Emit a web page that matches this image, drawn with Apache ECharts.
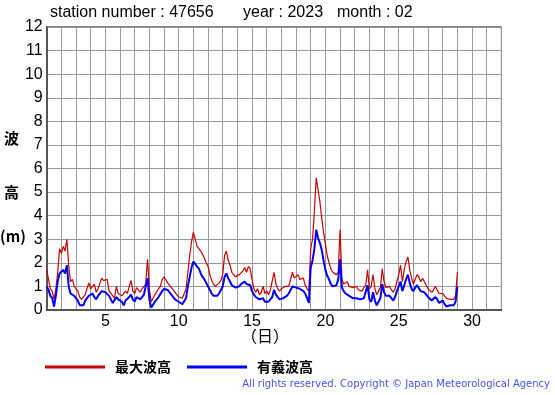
<!DOCTYPE html>
<html><head><meta charset="utf-8">
<script src="https://cdn.jsdelivr.net/npm/echarts@6/dist/echarts.min.js"></script>
<style>html,body{margin:0;padding:0;background:#fff}#c{width:555px;height:395px}</style>
</head><body><div id="c"></div>
<script>
// 3-hourly samples from 1 Feb 00h to 29 (=1 Mar 00h)
const startDay = 1;
const stepDay = 1/8;
const maxWave = [
 1.7,1.3,0.9,0.8,0.45,0.9,1.6,2.6,
 2.4,2.7,2.5,3.0,1.9,1.2,1.3,1.0,
 1.0,0.8,0.55,0.45,0.5,0.65,0.9,1.15,
 0.9,0.95,1.1,0.75,0.9,0.85,1.35,1.25,
 1.2,1.3,0.8,0.7,0.6,0.5,1.0,0.7,
 0.75,0.6,0.55,0.8,0.7,1.0,1.25,0.8,
 0.7,0.95,0.85,0.75,0.9,0.85,1.1,2.15,
 0.9,0.35,0.3,0.65,0.7,0.9,1.0,1.3,
 1.4,1.35,1.15,1.1,0.95,0.85,0.75,0.75,
 0.55,0.5,0.5,0.45,0.9,1.6,2.3,2.9,
 3.3,3.0,2.7,2.6,2.5,2.35,2.2,2.0,
 1.85,1.5,1.25,1.1,1.0,1.05,1.15,1.25,
 1.5,2.3,2.5,2.1,1.9,1.6,1.5,1.4,
 1.4,1.5,1.55,1.65,1.8,1.6,1.85,1.75,
 1.3,0.9,0.75,0.9,0.65,0.75,1.0,0.7,
 0.8,0.65,0.85,0.9,1.6,1.1,0.9,0.8,
 0.9,0.85,1.0,0.95,1.0,1.3,1.6,1.35,
 1.4,1.5,1.3,1.25,1.35,1.05,0.9,0.8,
 2.6,3.0,4.2,5.6,5.1,4.6,3.9,3.3,
 2.8,2.3,2.0,1.75,1.6,1.55,1.5,1.6,
 3.4,1.3,1.1,1.05,1.2,1.0,1.05,0.95,
 0.9,1.0,0.85,0.9,0.8,0.95,1.05,1.7,
 0.9,1.0,1.5,0.9,0.65,0.8,0.95,1.75,
 1.2,0.95,0.9,1.0,0.85,0.75,0.9,1.2,
 1.5,1.9,1.2,1.7,2.05,2.25,1.7,1.35,
 1.1,1.3,1.5,1.4,1.2,1.35,1.2,1.05,
 0.9,0.85,0.75,0.85,1.0,0.85,0.7,0.65,
 0.7,0.6,0.5,0.45,0.45,0.5,0.45,0.6,
 1.6
];
const sigWave = [
 1.0,0.85,0.6,0.5,0.15,0.6,1.2,1.55,
 1.5,1.7,1.55,1.9,1.0,0.7,0.75,0.6,
 0.55,0.4,0.2,0.25,0.2,0.4,0.5,0.6,
 0.6,0.7,0.55,0.45,0.6,0.65,0.8,0.75,
 0.75,0.7,0.6,0.45,0.3,0.25,0.55,0.45,
 0.5,0.35,0.2,0.4,0.45,0.55,0.65,0.45,
 0.35,0.55,0.6,0.45,0.55,0.65,0.7,1.35,
 0.45,0.1,0.1,0.35,0.4,0.55,0.6,0.8,
 0.9,0.9,0.85,0.75,0.65,0.55,0.45,0.42,
 0.35,0.3,0.25,0.2,0.5,1.0,1.4,1.8,
 2.05,2.0,1.85,1.75,1.55,1.4,1.3,1.15,
 1.0,0.85,0.7,0.6,0.55,0.6,0.7,0.75,
 1.0,1.4,1.55,1.35,1.2,1.05,1.0,0.95,
 0.95,1.0,1.1,1.15,1.2,1.1,1.15,1.05,
 0.8,0.65,0.55,0.6,0.45,0.4,0.5,0.35,
 0.4,0.35,0.45,0.55,0.85,0.65,0.55,0.45,
 0.45,0.5,0.55,0.6,0.7,0.85,1.0,0.95,
 0.95,0.9,0.9,0.85,0.8,0.7,0.5,0.3,
 1.8,2.1,2.6,3.4,3.05,2.85,2.55,2.1,
 1.7,1.45,1.3,1.1,1.0,0.95,1.05,1.3,
 2.15,0.95,0.8,0.7,0.65,0.6,0.55,0.5,
 0.55,0.5,0.45,0.45,0.4,0.5,0.45,1.05,
 0.45,0.35,0.75,0.4,0.2,0.35,0.5,1.1,
 0.75,0.6,0.55,0.6,0.5,0.4,0.55,0.8,
 1.0,1.2,0.8,1.05,1.3,1.5,1.15,0.9,
 0.8,0.95,1.05,1.0,0.8,0.85,0.75,0.65,
 0.55,0.5,0.4,0.45,0.55,0.45,0.3,0.3,
 0.4,0.25,0.15,0.2,0.2,0.25,0.2,0.35,
 1.0
];
const xTickLabels = [5,10,15,20,25,30];
const titleParts = ['station number : 47656','year : 2023','month : 02'];
const seriesNames = ['最大波高','有義波高'];
const yName = ['波','高','(m)'];
const xName = '（日）';
const copyright = 'All rights reserved. Copyright \u00a9 Japan Meteorological Agency';

const toPairs = arr => arr.map((v,i)=>[startDay + i*stepDay, v]);
const font = 'Liberation Sans, Arial, sans-serif';
const chart = echarts.init(document.getElementById('c'), null, {renderer:'canvas'});
chart.setOption({
  animation:false,
  backgroundColor:'#fff',
  grid:{left:46.7, right:53.6, top:27, bottom:85, show:true, borderColor:'#000', borderWidth:1, backgroundColor:'transparent'},
  xAxis:{type:'value', min:1, max:32, interval:1,
    axisLine:{show:true, onZero:false, lineStyle:{color:'#555', width:2}},
    axisTick:{show:false},
    splitLine:{show:true, lineStyle:{color:'#999', width:1}},
    axisLabel:{fontFamily:font, fontSize:16, color:'#000', margin:4,
      formatter:v=> xTickLabels.includes(v) ? String(v) : ''}
  },
  yAxis:{type:'value', min:0, max:12, interval:1,
    axisLine:{show:true, lineStyle:{color:'#555', width:2}},
    axisTick:{show:false},
    splitLine:{show:true, lineStyle:{color:'#999', width:1}},
    axisLabel:{fontFamily:font, fontSize:16, color:'#000', margin:4}
  },
  legend:{left:40, top:355, itemWidth:60, itemHeight:3, itemGap:16, icon:'rect',
    textStyle:{fontFamily:'Noto Sans CJK JP', fontWeight:'bold', fontSize:14, color:'#000', padding:[0,0,0,5]},
    data:seriesNames},
  series:[
    {name:seriesNames[0], type:'line', data:toPairs(maxWave), showSymbol:false, symbol:'none',
      lineStyle:{color:'#cc0000', width:1.2}, itemStyle:{color:'#cc0000'}},
    {name:seriesNames[1], type:'line', data:toPairs(sigWave), showSymbol:false, symbol:'none',
      lineStyle:{color:'#0000ff', width:2}, itemStyle:{color:'#0000ff'}}
  ],
  graphic:[
    {type:'text', left:50, top:5, style:{text:titleParts[0], font:'16px '+font, fill:'#000'}},
    {type:'text', left:243, top:5, style:{text:titleParts[1], font:'16px '+font, fill:'#000'}},
    {type:'text', left:337, top:5, style:{text:titleParts[2], font:'16px '+font, fill:'#000'}},
    {type:'text', left:4, top:131, style:{text:yName[0], font:'bold 15px Noto Sans CJK JP', fill:'#000'}},
    {type:'text', left:4, top:185, style:{text:yName[1], font:'bold 15px Noto Sans CJK JP', fill:'#000'}},
    {type:'text', left:0, top:229, style:{text:yName[2], font:'bold 15px Noto Sans CJK JP', fill:'#000'}},
    {type:'text', left:241, top:328, style:{text:xName, font:'16px Noto Sans CJK JP', fill:'#000'}},
    {type:'text', right:5, top:379, style:{text:copyright, font:'10px DejaVu Sans', fill:'#4455ee'}}
  ]
});
</script></body></html>
